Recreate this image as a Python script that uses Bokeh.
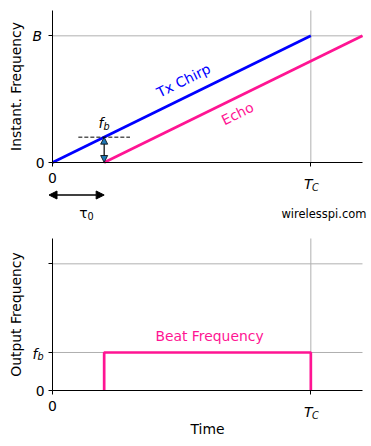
import math
from bokeh.plotting import figure
from bokeh.layouts import column
from bokeh.models import Range1d, FixedTicker, Label, Arrow, NormalHead
from bokeh.embed import file_html
from bokeh.resources import INLINE

# ---- data ----
t_tx = [0.0, 1.0]
f_tx = [0.0, 1.0]
t_echo = [0.2, 1.2]
f_echo = [0.0, 1.0]
tau0 = 0.2
fb_level_top = 0.2
t_beat = [0.2, 0.2, 1.0, 1.0]
f_beat = [0.0, 0.3, 0.3, 0.0]
fb = 0.3
x_ticks = [0, 1]
y_ticks_top = [0, 1]
y_ticks_bot = [0, 0.3, 1]
x_max = 1.2
y_max = 1.2

FONT = "DejaVu Sans"
FS = "13.9px"
SUB = "9.7px"
PINK = "#ff1493"
BLUE = "#0000ff"
GRID = "#b0b0b0"

# pixel geometry (frame covers the whole canvas; axes at data 0)
PX_X = 258.333   # px per x unit
PX_Y = 126.667   # px per y unit
X0_PX = 52       # px of x=0 from left
Y0_PX = 162      # px of y=0 from top of each figure
W = 371


def make_fig(height):
    xr = Range1d(-X0_PX / PX_X, (W - X0_PX) / PX_X)
    yr = Range1d((Y0_PX - height) / PX_Y, Y0_PX / PX_Y)
    p = figure(width=W, height=height, output_backend="svg", toolbar_location=None,
               x_range=xr, y_range=yr)
    p.min_border = 0
    p.outline_line_color = None
    p.xgrid.visible = False
    p.ygrid.visible = False
    return p


def style(p, xt, yt, ylabel, xlabel=None):
    p.xaxis.ticker = FixedTicker(ticks=xt)
    p.yaxis.ticker = FixedTicker(ticks=yt)
    for ax in (p.xaxis[0], p.yaxis[0]):
        ax.fixed_location = 0
        ax.bounds = (0, x_max)
        ax.axis_line_color = "black"
        ax.axis_line_width = 1
        ax.major_tick_line_color = "black"
        ax.major_tick_out = 4
        ax.major_tick_in = 0
        ax.minor_tick_line_color = None
        ax.major_label_text_font = FONT
        ax.major_label_text_font_size = FS
        ax.major_label_text_color = "black"
        ax.axis_label_text_font = FONT
        ax.axis_label_text_font_size = FS
        ax.axis_label_text_font_style = "normal"
        ax.axis_label_text_color = "black"
    p.yaxis.bounds = (0, y_max)
    p.xaxis.major_label_overrides = {0: "0", 1: " "}
    p.xaxis.major_label_standoff = 3
    p.yaxis.major_label_standoff = 4
    p.yaxis.axis_label = ylabel
    p.yaxis.axis_label_standoff = 9
    if xlabel:
        p.xaxis.axis_label = xlabel
        p.xaxis.axis_label_standoff = 4
    # grid lines (matplotlib style, limited to the axes box)
    gx = [t for t in xt if t > 0]
    gy = [t for t in yt if t > 0]
    p.segment(x0=gx, y0=[0] * len(gx), x1=gx, y1=[y_max] * len(gx),
              line_color=GRID, line_width=1)
    p.segment(x0=[0] * len(gy), y0=gy, x1=[x_max] * len(gy), y1=gy,
              line_color=GRID, line_width=1)


def lab(p, x, y, text, size=FS, color="black", align="center",
        baseline="middle", style_="normal", angle=0.0):
    p.add_layout(Label(x=x, y=y, text=text, text_font=FONT,
                       text_font_size=size, text_color=color,
                       text_align=align, text_baseline=baseline,
                       text_font_style=style_, angle=angle))


def dx(px):
    return (px - X0_PX) / PX_X


def dy(px):
    return (Y0_PX - px) / PX_Y


# ---------------- top plot ----------------
p1 = make_fig(228)
style(p1, x_ticks, y_ticks_top, "Instant. Frequency")
p1.yaxis.major_label_overrides = {0: "0", 1: " "}

p1.line(t_tx, f_tx, line_color=BLUE, line_width=2.7)
p1.line(t_echo, f_echo, line_color=PINK, line_width=2.7)

p1.line([tau0 - 0.1, tau0 + 0.1], [fb_level_top, fb_level_top],
        line_color="black", line_width=1, line_dash="4 2")
p1.add_layout(Arrow(x_start=tau0, y_start=0, x_end=tau0, y_end=fb_level_top,
                    line_color="black", line_width=1.2,
                    start=NormalHead(size=7, fill_color="#1f77b4", line_color="black", line_width=0.8),
                    end=NormalHead(size=7, fill_color="#1f77b4", line_color="black", line_width=0.8)))
p1.add_layout(Arrow(x_start=dx(48.5), y_start=dy(194.5), x_end=tau0, y_end=dy(194.5),
                    line_color="black", line_width=1.4,
                    start=NormalHead(size=8, fill_color="black", line_color="black"),
                    end=NormalHead(size=8, fill_color="black", line_color="black")))

ang = math.atan2(PX_Y, PX_X)
lab(p1, dx(183), dy(80), "Tx Chirp", color=BLUE, angle=ang)
lab(p1, dx(237), dy(113), "Echo", color=PINK, angle=ang)

# f_b near the arrow
lab(p1, dx(103), dy(122.5), "f", align="right", baseline="alphabetic", style_="italic")
lab(p1, dx(103), dy(125.5), "b", size=SUB, align="left", baseline="alphabetic", style_="italic")
# B tick label
lab(p1, dx(41.5), 1.0, "B", align="right", style_="italic")
# T_C tick label
lab(p1, dx(312), dy(183.5), "T", align="right", baseline="alphabetic", style_="italic")
lab(p1, dx(311.5), dy(186.5), "C", size=SUB, align="left", baseline="alphabetic", style_="italic")
# tau0 text
lab(p1, dx(87), dy(212.5), "τ", align="right", baseline="alphabetic")
lab(p1, dx(87), dy(215), "0", size=SUB, align="left", baseline="alphabetic")
# watermark
lab(p1, dx(366), dy(213), "wirelesspi.com", size="11.5px", align="right")

# ---------------- bottom plot ----------------
p2 = make_fig(218)
style(p2, x_ticks, y_ticks_bot, "Output Frequency", "Time")
p2.yaxis.major_label_overrides = {0: "0", 0.3: " ", 1: " "}

p2.line(t_beat, f_beat, line_color=PINK, line_width=2.7)
lab(p2, dx(209), dy(335 - 228), "Beat Frequency", color=PINK)
lab(p2, dx(37), dy(353 - 228), "f", align="right", baseline="alphabetic", style_="italic")
lab(p2, dx(37), dy(356 - 228), "b", size=SUB, align="left", baseline="alphabetic", style_="italic")
lab(p2, dx(312), dy(183.5), "T", align="right", baseline="alphabetic", style_="italic")
lab(p2, dx(311.5), dy(186.5), "C", size=SUB, align="left", baseline="alphabetic", style_="italic")

layout = column(p1, p2)
open("out.html", "w").write(file_html(layout, INLINE))
